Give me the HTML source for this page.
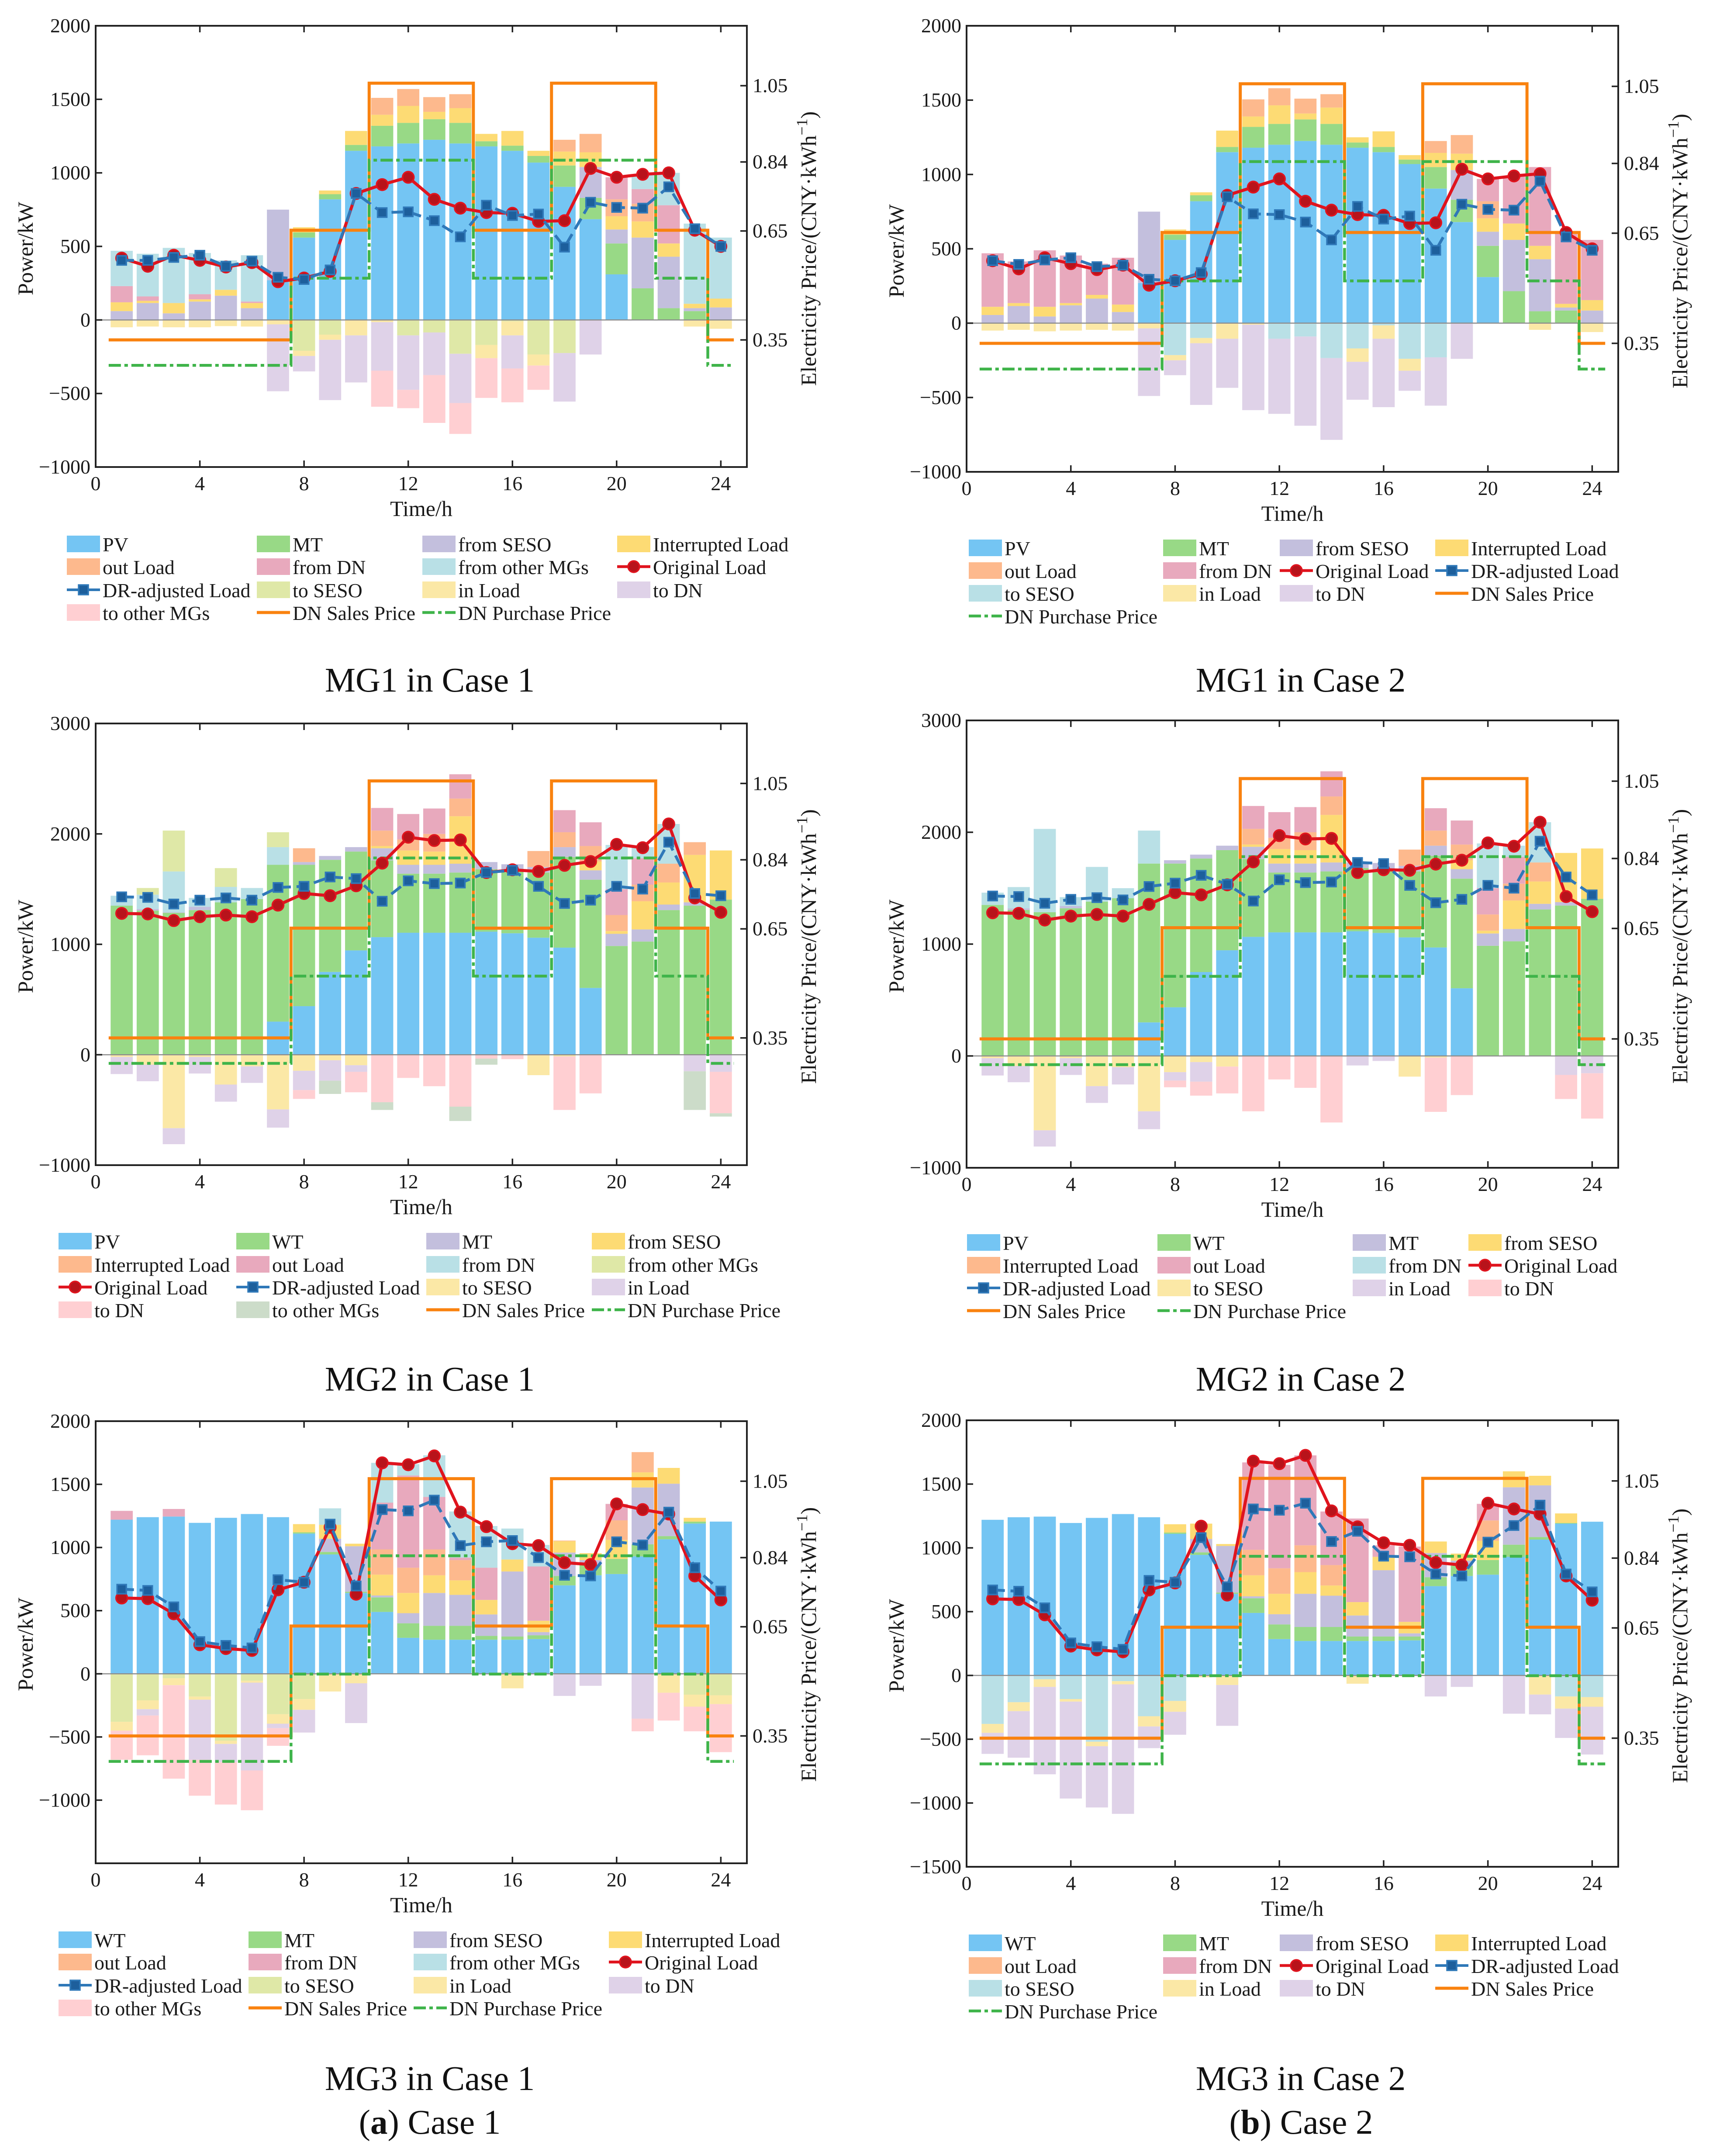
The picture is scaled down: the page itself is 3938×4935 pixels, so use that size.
<!DOCTYPE html>
<html lang="en">
<head>
<meta charset="utf-8">
<title>Microgrid power balance, Case 1 and Case 2</title>
<style>
html,body{margin:0;padding:0;background:#fff;}
svg{display:block;font-family:"Liberation Serif","Times New Roman",serif;}
</style>
</head>
<body>
<svg id="figure" xmlns="http://www.w3.org/2000/svg" width="3938" height="4935" viewBox="0 0 3938 4935">
<rect x="0" y="0" width="3938" height="4935" fill="#ffffff"/>
</svg>
<script>
// Shared axis data
const hourTicks = [0, 4, 8, 12, 16, 20, 24];
const priceTicks = [0.35, 0.65, 0.84, 1.05];
const salesPrice = [0.35,0.35,0.35,0.35,0.35,0.35,0.35,0.652,0.652,0.652,1.057,1.057,1.057,1.057,0.652,0.652,0.652,1.057,1.057,1.057,1.057,0.652,0.652,0.35];
const purchasePrice = [0.28,0.28,0.28,0.28,0.28,0.28,0.28,0.52,0.52,0.52,0.845,0.845,0.845,0.845,0.52,0.52,0.52,0.845,0.845,0.845,0.845,0.52,0.52,0.28];
const powerTicks1 = [-1000, -500, 0, 500, 1000, 1500, 2000];
const powerTicks2 = [-1000, 0, 1000, 2000, 3000];
const powerTicks3a = [-1000, -500, 0, 500, 1000, 1500, 2000];
const powerTicks3b = [-1500, -1000, -500, 0, 500, 1000, 1500, 2000];

// MG1 in Case 1
const mg1c1PV = [0,0,0,0,0,0,270,560,820,1150,1180,1200,1225,1200,1180,1150,1070,905,685,310,0,0,0,0];
const mg1c1MT = [0,0,0,0,0,0,0,35,35,40,140,140,140,140,35,35,45,145,145,210,215,80,60,0];
const mg1c1FromSESO = [60,115,45,125,165,80,480,0,0,0,0,0,0,0,0,0,0,0,210,95,345,350,20,85];
const mg1c1Interrupted = [60,15,70,15,40,35,0,35,25,95,75,115,50,100,50,100,35,95,100,90,110,90,30,60];
const mg1c1OutLoad = [0,0,0,0,0,0,0,0,0,0,115,115,100,95,0,0,0,80,125,115,120,0,0,0];
const mg1c1FromDN = [110,30,0,35,0,10,0,0,0,0,0,0,0,0,0,0,0,0,0,150,100,260,0,0];
const mg1c1FromOther = [240,290,375,280,200,315,0,0,0,0,0,0,0,0,0,0,0,0,0,0,100,220,545,415];
const mg1c1ToSESO = [0,0,0,0,0,0,0,210,100,0,0,105,85,230,170,10,235,225,0,0,0,0,0,0];
const mg1c1InLoad = [50,45,50,50,42,45,30,35,35,105,15,0,0,0,90,95,75,0,0,0,0,0,45,60];
const mg1c1ToDN = [0,0,0,0,0,0,455,105,410,320,330,370,290,335,0,225,0,330,235,0,0,0,0,0];
const mg1c1ToOther = [0,0,0,0,0,0,0,0,0,0,245,125,325,210,270,230,165,0,0,0,0,0,0,0];
const mg1c1Original = [420,365,440,405,360,390,260,285,330,860,920,970,820,760,730,725,670,675,1030,970,990,1000,610,500];
const mg1c1Adjusted = [405,405,425,440,365,400,290,275,340,860,730,735,675,565,780,710,720,495,800,765,760,905,620,500];

// MG1 in Case 2
const mg1c2PV = [0,0,0,0,0,0,270,560,820,1150,1180,1200,1225,1200,1180,1150,1070,905,680,310,0,0,0,0];
const mg1c2MT = [0,0,0,0,0,0,0,35,40,35,140,140,145,140,35,35,30,145,150,210,215,80,85,0];
const mg1c2FromSESO = [55,115,45,120,165,75,480,0,0,0,0,0,0,0,0,0,0,0,200,95,345,350,20,85];
const mg1c2Interrupted = [55,20,65,15,25,50,0,35,20,110,70,125,40,110,35,105,30,95,110,90,110,90,25,70];
const mg1c2OutLoad = [0,0,0,0,0,0,0,0,0,0,115,115,100,90,0,0,0,80,125,115,0,0,0,0];
const mg1c2FromDN = [360,280,380,320,210,315,0,0,0,0,0,0,0,0,0,0,0,0,0,150,320,530,490,405];
const mg1c2ToSESO = [0,0,0,0,0,0,0,215,100,0,0,105,90,235,170,15,240,230,0,0,0,0,0,0];
const mg1c2InLoad = [50,45,55,50,45,50,35,35,35,105,10,0,0,0,90,90,80,0,0,0,0,45,0,60];
const mg1c2ToDN = [0,0,0,0,0,0,455,100,415,330,575,505,600,550,255,460,135,325,240,0,0,0,0,0];
const mg1c2Original = [420,365,440,400,360,390,255,285,330,860,915,970,820,760,730,725,670,675,1035,970,990,1005,610,500];
const mg1c2Adjusted = [420,395,425,440,380,390,295,285,340,850,735,730,680,560,785,700,720,490,800,765,760,955,580,490];

// MG2 in Case 1
const mg2c1PV = [0,0,0,0,0,0,300,440,750,945,1065,1105,1105,1105,1115,1100,1060,970,605,0,0,0,0,0];
const mg2c1WT = [1350,1305,1285,1310,1380,1410,1420,1280,1015,895,695,535,535,545,565,570,590,820,980,985,1025,1310,1350,1405];
const mg2c1MT = [0,15,5,30,0,0,0,25,35,40,110,80,80,80,65,55,50,90,85,110,110,50,30,0];
const mg2c1FromSESO = [0,0,0,0,0,0,0,0,0,0,20,130,120,430,0,0,0,0,80,25,255,200,430,445];
const mg2c1Interrupted = [0,0,0,0,0,0,0,125,0,0,140,100,160,160,0,0,145,135,140,145,150,170,115,0];
const mg2c1OutLoad = [0,0,0,0,0,0,0,0,0,0,205,230,230,220,0,0,0,200,215,235,240,0,0,0];
const mg2c1FromDN = [90,130,370,80,140,100,160,0,0,0,0,0,0,0,0,0,0,0,0,400,100,360,0,0];
const mg2c1FromOther = [0,60,370,0,170,0,135,0,0,0,0,0,0,0,0,0,0,0,0,0,0,0,0,0];
const mg2c1ToSESO = [20,90,665,20,270,105,495,145,50,95,0,0,0,0,0,0,185,15,0,0,0,0,0,0];
const mg2c1InLoad = [155,150,145,150,155,150,165,175,185,60,0,0,0,0,0,0,0,0,0,0,0,0,150,155];
const mg2c1ToDN = [0,0,0,0,0,0,0,80,0,185,430,210,285,470,35,40,0,485,350,0,0,0,0,375];
const mg2c1ToOther = [0,0,0,0,0,0,0,0,120,0,70,0,0,130,55,0,0,0,0,0,0,0,350,30];
const mg2c1Original = [1280,1275,1215,1250,1265,1250,1355,1460,1440,1530,1735,1970,1940,1945,1650,1675,1660,1715,1750,1905,1875,2090,1420,1290];
const mg2c1Adjusted = [1430,1425,1365,1400,1420,1400,1515,1525,1610,1595,1390,1575,1550,1555,1650,1670,1525,1370,1400,1525,1500,1925,1460,1440];

// MG2 in Case 2
const mg2c2PV = [0,0,0,0,0,0,300,435,750,945,1065,1105,1105,1105,1115,1100,1060,970,605,0,0,0,0,0];
const mg2c2WT = [1350,1305,1285,1320,1380,1410,1420,1285,1015,895,695,535,535,545,565,570,590,820,980,985,1025,1310,1345,1405];
const mg2c2MT = [0,15,0,20,0,0,0,30,35,40,110,80,80,80,50,55,50,90,85,110,110,50,30,0];
const mg2c2FromSESO = [0,0,0,0,0,0,0,0,0,0,20,130,120,425,0,0,0,0,80,25,255,200,440,450];
const mg2c2Interrupted = [0,0,0,0,0,0,0,0,0,0,140,100,160,165,0,0,145,135,140,145,150,170,0,0];
const mg2c2OutLoad = [0,0,0,0,0,0,0,0,0,0,205,230,225,225,0,0,0,200,215,235,240,0,0,0];
const mg2c2FromDN = [110,190,745,80,310,90,295,0,0,0,0,0,0,0,0,0,0,0,0,400,100,360,0,0];
const mg2c2ToSESO = [20,90,665,20,270,100,495,145,55,95,0,0,0,0,0,0,185,15,0,0,0,0,0,0];
const mg2c2InLoad = [155,145,145,150,150,155,160,75,175,0,0,0,0,0,85,45,0,0,0,0,0,0,170,155];
const mg2c2ToDN = [0,0,0,0,0,0,0,60,125,240,495,210,285,595,0,0,0,485,350,0,0,0,215,405];
const mg2c2Original = [1280,1275,1215,1250,1265,1250,1355,1460,1440,1530,1735,1970,1940,1945,1640,1665,1660,1715,1750,1905,1875,2090,1425,1290];
const mg2c2Adjusted = [1430,1425,1365,1400,1415,1395,1515,1545,1615,1535,1385,1575,1550,1555,1730,1720,1525,1370,1400,1525,1500,1920,1600,1440];

// MG3 in Case 1
const mg3c1WT = [1220,1240,1245,1195,1235,1265,1240,1110,945,640,490,285,270,270,270,270,275,700,780,790,930,1065,1190,1205];
const mg3c1MT = [0,0,0,0,0,0,0,10,20,10,115,115,110,110,30,25,30,75,80,120,95,25,15,0];
const mg3c1FromSESO = [0,0,0,0,0,0,0,0,105,360,15,80,260,245,170,515,25,185,40,0,450,415,0,0];
const mg3c1Interrupted = [0,0,0,0,0,0,0,65,110,20,165,160,140,115,115,95,90,90,55,150,120,125,30,0];
const mg3c1OutLoad = [0,0,0,0,0,0,0,0,0,0,200,200,205,160,0,0,0,5,0,155,160,0,0,0];
const mg3c1FromDN = [70,0,60,0,0,0,0,0,0,0,370,730,415,20,255,0,430,0,0,130,0,0,0,0];
const mg3c1FromOther = [0,0,0,0,0,0,0,0,130,0,315,90,330,365,330,245,170,0,0,0,0,0,0,0];
const mg3c1ToSESO = [380,210,35,180,530,55,320,200,0,0,0,0,0,0,0,0,0,0,0,0,0,0,165,170];
const mg3c1InLoad = [70,70,55,25,25,15,75,85,140,75,0,0,0,0,0,115,0,0,0,0,0,150,95,70];
const mg3c1ToDN = [0,50,0,475,145,695,35,180,0,315,0,0,0,0,0,0,0,175,95,0,355,0,0,0];
const mg3c1ToOther = [230,315,740,285,335,315,140,0,0,0,0,0,0,0,0,0,0,0,0,0,100,220,195,380];
const mg3c1Original = [600,595,475,230,200,185,665,725,1160,630,1670,1655,1725,1280,1165,1030,1015,880,865,1345,1300,1265,775,585];
const mg3c1Adjusted = [670,660,530,255,225,205,745,725,1185,695,1300,1290,1375,1015,1045,1055,920,780,775,1045,1020,1280,840,655];

// MG3 in Case 2
const mg3c2WT = [1220,1240,1245,1195,1235,1265,1240,1110,945,640,490,285,270,270,270,270,275,700,780,790,930,1065,1190,1205];
const mg3c2MT = [0,0,0,0,0,0,0,10,20,10,115,115,110,110,35,35,30,70,80,115,95,20,5,0];
const mg3c2FromSESO = [0,0,0,0,0,0,0,0,105,365,15,80,260,245,165,520,25,190,40,0,450,405,0,0];
const mg3c2Interrupted = [0,0,0,0,0,0,0,65,120,15,165,160,170,80,105,105,90,90,55,150,125,75,75,0];
const mg3c2OutLoad = [0,0,0,0,0,0,0,0,0,0,200,200,210,160,0,0,0,0,0,160,0,0,0,0];
const mg3c2FromDN = [0,0,0,0,0,0,0,0,0,0,685,810,705,420,655,90,590,0,0,130,0,0,0,0];
const mg3c2ToSESO = [380,210,30,185,520,45,320,200,0,0,0,0,0,0,0,0,0,0,0,0,0,0,165,170];
const mg3c2InLoad = [70,70,60,20,35,25,80,85,15,75,0,0,0,0,65,0,0,0,0,0,0,150,95,75];
const mg3c2ToDN = [165,365,685,760,480,1015,170,180,0,320,0,0,0,0,0,0,0,165,90,0,300,155,230,375];
const mg3c2Original = [600,595,475,230,200,185,670,725,1170,630,1680,1660,1725,1290,1165,1040,1020,885,865,1350,1305,1265,780,590];
const mg3c2Adjusted = [670,660,530,255,225,205,745,730,1080,695,1305,1295,1350,1050,1130,935,930,795,780,1045,1175,1335,795,655];

// Palette and layout
const C = {blue:'#74c5f3', green:'#98d986', lav:'#c3bfdd', yellow:'#fddb74', orange:'#fdb98d', pink:'#e8a9bd', sky:'#b9e0e6', lime:'#dfe8a7', pale:'#fbe8a6', purple:'#dfd2e8', rose:'#ffcfd2', sage:'#ccdcc9'};
const RED = '#e0141e', RED_FILL = '#b8131b', BLUE_LINE = '#2f78b8', BLUE_FILL = '#1d5f9c', SALES = '#f9820f', PURCHASE = '#3fb44a';
const AXIS_MAX_PRICE = 1.215;

const panels = [
 {id:'mg1-case1', title:'MG1 in Case 1', left:219, right:1710, top:59, bottom:1069, yMin:-1000, yMax:2000, yTicks:powerTicks1, titleY:1583, cx:984,
  pos:[['PV',mg1c1PV,C.blue],['MT',mg1c1MT,C.green],['from SESO',mg1c1FromSESO,C.lav],['Interrupted Load',mg1c1Interrupted,C.yellow],['out Load',mg1c1OutLoad,C.orange],['from DN',mg1c1FromDN,C.pink],['from other MGs',mg1c1FromOther,C.sky]],
  neg:[['to SESO',mg1c1ToSESO,C.lime],['in Load',mg1c1InLoad,C.pale],['to DN',mg1c1ToDN,C.purple],['to other MGs',mg1c1ToOther,C.rose]],
  original:mg1c1Original, adjusted:mg1c1Adjusted,
  legendX:[153,588,967,1413], legendY:[1247,1299,1352,1404],
  legend:['PV','MT','from SESO','Interrupted Load','out Load','from DN','from other MGs','Original Load','DR-adjusted Load','to SESO','in Load','to DN','to other MGs','DN Sales Price','DN Purchase Price']},
 {id:'mg1-case2', title:'MG1 in Case 2', left:2213, right:3705, top:59, bottom:1080, yMin:-1000, yMax:2000, yTicks:powerTicks1, titleY:1583, cx:2978,
  pos:[['PV',mg1c2PV,C.blue],['MT',mg1c2MT,C.green],['from SESO',mg1c2FromSESO,C.lav],['Interrupted Load',mg1c2Interrupted,C.yellow],['out Load',mg1c2OutLoad,C.orange],['from DN',mg1c2FromDN,C.pink]],
  neg:[['to SESO',mg1c2ToSESO,C.sky],['in Load',mg1c2InLoad,C.pale],['to DN',mg1c2ToDN,C.purple]],
  original:mg1c2Original, adjusted:mg1c2Adjusted,
  legendX:[2218,2663,2930,3286], legendY:[1256,1308,1360,1412],
  legend:['PV','MT','from SESO','Interrupted Load','out Load','from DN','Original Load','DR-adjusted Load','to SESO','in Load','to DN','DN Sales Price','DN Purchase Price']},
 {id:'mg2-case1', title:'MG2 in Case 1', left:219, right:1710, top:1656, bottom:2667, yMin:-1000, yMax:3000, yTicks:powerTicks2, titleY:3183, cx:984,
  pos:[['PV',mg2c1PV,C.blue],['WT',mg2c1WT,C.green],['MT',mg2c1MT,C.lav],['from SESO',mg2c1FromSESO,C.yellow],['Interrupted Load',mg2c1Interrupted,C.orange],['out Load',mg2c1OutLoad,C.pink],['from DN',mg2c1FromDN,C.sky],['from other MGs',mg2c1FromOther,C.lime]],
  neg:[['to SESO',mg2c1ToSESO,C.pale],['in Load',mg2c1InLoad,C.purple],['to DN',mg2c1ToDN,C.rose],['to other MGs',mg2c1ToOther,C.sage]],
  original:mg2c1Original, adjusted:mg2c1Adjusted,
  legendX:[134,541,976,1355], legendY:[2843,2896,2948,3000],
  legend:['PV','WT','MT','from SESO','Interrupted Load','out Load','from DN','from other MGs','Original Load','DR-adjusted Load','to SESO','in Load','to DN','to other MGs','DN Sales Price','DN Purchase Price']},
 {id:'mg2-case2', title:'MG2 in Case 2', left:2213, right:3705, top:1649, bottom:2673, yMin:-1000, yMax:3000, yTicks:powerTicks2, titleY:3183, cx:2978,
  pos:[['PV',mg2c2PV,C.blue],['WT',mg2c2WT,C.green],['MT',mg2c2MT,C.lav],['from SESO',mg2c2FromSESO,C.yellow],['Interrupted Load',mg2c2Interrupted,C.orange],['out Load',mg2c2OutLoad,C.pink],['from DN',mg2c2FromDN,C.sky]],
  neg:[['to SESO',mg2c2ToSESO,C.pale],['in Load',mg2c2InLoad,C.purple],['to DN',mg2c2ToDN,C.rose]],
  original:mg2c2Original, adjusted:mg2c2Adjusted,
  legendX:[2214,2650,3097,3362], legendY:[2846,2898,2950,3002],
  legend:['PV','WT','MT','from SESO','Interrupted Load','out Load','from DN','Original Load','DR-adjusted Load','to SESO','in Load','to DN','DN Sales Price','DN Purchase Price']},
 {id:'mg3-case1', title:'MG3 in Case 1', left:219, right:1710, top:3253, bottom:4265, yMin:-1500, yMax:2000, yTicks:powerTicks3a, titleY:4784, cx:984,
  pos:[['WT',mg3c1WT,C.blue],['MT',mg3c1MT,C.green],['from SESO',mg3c1FromSESO,C.lav],['Interrupted Load',mg3c1Interrupted,C.yellow],['out Load',mg3c1OutLoad,C.orange],['from DN',mg3c1FromDN,C.pink],['from other MGs',mg3c1FromOther,C.sky]],
  neg:[['to SESO',mg3c1ToSESO,C.lime],['in Load',mg3c1InLoad,C.pale],['to DN',mg3c1ToDN,C.purple],['to other MGs',mg3c1ToOther,C.rose]],
  original:mg3c1Original, adjusted:mg3c1Adjusted,
  legendX:[134,569,947,1394], legendY:[4442,4493,4546,4598],
  legend:['WT','MT','from SESO','Interrupted Load','out Load','from DN','from other MGs','Original Load','DR-adjusted Load','to SESO','in Load','to DN','to other MGs','DN Sales Price','DN Purchase Price']},
 {id:'mg3-case2', title:'MG3 in Case 2', left:2213, right:3705, top:3251, bottom:4273, yMin:-1500, yMax:2000, yTicks:powerTicks3b, titleY:4784, cx:2978,
  pos:[['WT',mg3c2WT,C.blue],['MT',mg3c2MT,C.green],['from SESO',mg3c2FromSESO,C.lav],['Interrupted Load',mg3c2Interrupted,C.yellow],['out Load',mg3c2OutLoad,C.orange],['from DN',mg3c2FromDN,C.pink]],
  neg:[['to SESO',mg3c2ToSESO,C.sky],['in Load',mg3c2InLoad,C.pale],['to DN',mg3c2ToDN,C.purple]],
  original:mg3c2Original, adjusted:mg3c2Adjusted,
  legendX:[2218,2663,2930,3286], legendY:[4449,4501,4553,4605],
  legend:['WT','MT','from SESO','Interrupted Load','out Load','from DN','Original Load','DR-adjusted Load','to SESO','in Load','to DN','DN Sales Price','DN Purchase Price']}
];

const NS = 'http://www.w3.org/2000/svg';
const root = document.getElementById('figure');

function mk(parent, tag, attrs, text) {
  const node = document.createElementNS(NS, tag);
  for (const k in attrs) node.setAttribute(k, attrs[k]);
  if (text !== undefined) node.textContent = text;
  parent.appendChild(node);
  return node;
}
function slug(s) { return s.toLowerCase().replace(/[^a-z0-9]+/g, '-'); }
function fmt(v) { return v < 0 ? '\u2212' + Math.abs(v) : String(v); }

function drawLegendLine(g, kind, x, y) {
  const mid = x + 38;
  if (kind === 'Original Load') {
    const l = mk(g, 'line', {x1:x, y1:y, x2:x+76, y2:y, stroke:RED, 'stroke-width':6.5});
    
    
    const m = mk(g, 'circle', {cx:mid, cy:y, r:13, fill:RED_FILL, stroke:RED, 'stroke-width':3.5});
    
    
  } else if (kind === 'DR-adjusted Load') {
    const l = mk(g, 'line', {x1:x, y1:y, x2:x+76, y2:y, stroke:BLUE_LINE, 'stroke-width':6});
    
    
    const m = mk(g, 'rect', {x:mid-11, y:y-11, width:22, height:22, fill:BLUE_FILL, stroke:BLUE_LINE, 'stroke-width':3.5});
    
    
  } else if (kind === 'DN Sales Price') {
    const l = mk(g, 'line', {x1:x, y1:y, x2:x+76, y2:y, stroke:SALES, 'stroke-width':7});
    
    
  } else {
    const l = mk(g, 'line', {x1:x, y1:y, x2:x+76, y2:y, stroke:PURCHASE, 'stroke-width':6.5, 'stroke-dasharray':'28 8 8 8'});
    
    
  }
}

function drawPanel(p) {
  const sx = h => p.left + (h / 25) * (p.right - p.left);
  const sy = v => p.bottom - ((v - p.yMin) / (p.yMax - p.yMin)) * (p.bottom - p.top);
  const sp = v => p.bottom - (v / AXIS_MAX_PRICE) * (p.bottom - p.top);
  const barW = 0.85 * (p.right - p.left) / 25;

  const g = mk(root, 'g', {});
  
  

  // stacked bars
  [p.pos, p.neg].forEach((stack, idx) => {
    const sign = idx === 0 ? 1 : -1;
    stack.forEach(series => {
      const sg = mk(g, 'g', {fill: series[2]});
      
      
      series[1].forEach((val, i) => {
        if (!val) return;
        let base = 0;
        stack.forEach(other => {
          if (stack.indexOf(other) < stack.indexOf(series)) base += other[1][i];
        });
        const y0 = sy(sign * base), y1 = sy(sign * (base + val));
        const r = mk(sg, 'rect', {x: sx(i + 1) - barW / 2, y: Math.min(y0, y1), width: barW, height: Math.abs(y1 - y0)});
        
        
      });
    });
  });

  // zero line
  const zero = mk(g, 'line', {x1:p.left, x2:p.right, y1:sy(0), y2:sy(0), stroke:'#8c8c8c', 'stroke-width':2.5});
  
  

  // price step lines
  function stepPath(arr) {
    let d = '';
    arr.forEach((v, i) => {
      d += (i === 0 ? 'M' : 'L') + sx(i + 0.5) + ' ' + sp(v) + 'L' + sx(i + 1.5) + ' ' + sp(v);
    });
    return d;
  }
  const sales = mk(g, 'path', {d: stepPath(salesPrice), fill:'none', stroke:SALES, 'stroke-width':7});
  
  
  const purchase = mk(g, 'path', {d: stepPath(purchasePrice), fill:'none', stroke:PURCHASE, 'stroke-width':6.5, 'stroke-dasharray':'28 8 8 8'});
  
  

  // load lines
  const linePts = arr => arr.map((v, i) => sx(i + 1) + ',' + sy(v)).join(' ');
  const origLine = mk(g, 'polyline', {points: linePts(p.original), fill:'none', stroke:RED, 'stroke-width':7});
  
  
  p.original.forEach((v, i) => {
    const c = mk(g, 'circle', {cx: sx(i + 1), cy: sy(v), r: 13, fill: RED_FILL, stroke: RED, 'stroke-width': 3.5});
    
    
  });
  const adjLine = mk(g, 'polyline', {points: linePts(p.adjusted), fill:'none', stroke:BLUE_LINE, 'stroke-width':6.5, 'stroke-dasharray':'28 13'});
  
  
  p.adjusted.forEach((v, i) => {
    const s = mk(g, 'rect', {x: sx(i + 1) - 10.5, y: sy(v) - 10.5, width: 21, height: 21, fill: BLUE_FILL, stroke: BLUE_LINE, 'stroke-width': 3.5});
    
    
  });

  // axes box
  const box = mk(g, 'rect', {x:p.left, y:p.top, width:p.right-p.left, height:p.bottom-p.top, fill:'none', stroke:'#222222', 'stroke-width':4});
  
  

  // x ticks
  hourTicks.forEach(h => {
    const x = sx(h);
    if (h > 0) {
      const t1 = mk(g, 'line', {x1:x, x2:x, y1:p.bottom, y2:p.bottom-15, stroke:'#222', 'stroke-width':3.5});
      
      
      const t2 = mk(g, 'line', {x1:x, x2:x, y1:p.top, y2:p.top+15, stroke:'#222', 'stroke-width':3.5});
      
      
    }
    const lab = mk(g, 'text', {x:x, y:p.bottom+53, 'font-size':46, 'text-anchor':'middle', fill:'#1a1a1a'}, String(h));
    
    
  });

  // left ticks
  p.yTicks.forEach(v => {
    const y = sy(v);
    if (v > p.yMin && v < p.yMax) {
      const t = mk(g, 'line', {x1:p.left, x2:p.left+15, y1:y, y2:y, stroke:'#222', 'stroke-width':3.5});
      
      
    }
    const lab = mk(g, 'text', {x:p.left-12, y:y+15, 'font-size':46, 'text-anchor':'end', fill:'#1a1a1a'}, fmt(v));
    
    
  });

  // right ticks
  priceTicks.forEach(v => {
    const y = sp(v);
    const t = mk(g, 'line', {x1:p.right-15, x2:p.right, y1:y, y2:y, stroke:'#222', 'stroke-width':3.5});
    
    
    const lab = mk(g, 'text', {x:p.right+13, y:y+15, 'font-size':46, fill:'#1a1a1a'}, v.toFixed(2));
    
    
  });

  // axis titles
  const xt = mk(g, 'text', {x:(p.left+p.right)/2, y:p.bottom+112, 'font-size':50, 'text-anchor':'middle', fill:'#1a1a1a'}, 'Time/h');
  
  

  const cy = (p.top + p.bottom) / 2 + 5;
  const lx = p.left - 144;
  const yt = mk(g, 'text', {transform:'translate(' + lx + ' ' + cy + ') rotate(-90)', 'font-size':50, 'text-anchor':'middle', fill:'#1a1a1a'}, 'Power/kW');
  
  

  const rx = p.right + 158;
  const rt = mk(g, 'text', {transform:'translate(' + rx + ' ' + cy + ') rotate(-90)', 'font-size':50, 'text-anchor':'middle', fill:'#1a1a1a'}, 'Electricity Price/(CNY\u00b7kWh');
  
  
  mk(rt, 'tspan', {dy:-20, 'font-size':36}, '\u22121');
  mk(rt, 'tspan', {dy:20}, ')');

  // legend
  const lg = mk(g, 'g', {});
  
  
  const all = p.pos.concat(p.neg);
  p.legend.forEach((name, i) => {
    const col = i % 4, row = Math.floor(i / 4);
    const x = p.legendX[col], y = p.legendY[row];
    const entry = mk(lg, 'g', {});
    
    
    const found = all.find(s => s[0] === name);
    if (found) {
      const sw = mk(entry, 'rect', {x:x, y:y-21, width:76, height:38, fill:found[2]});
      
      
    } else {
      drawLegendLine(entry, name, x, y-2);
    }
    const tx = mk(entry, 'text', {x:x+82, y:y+15, 'font-size':46, fill:'#1a1a1a'}, name);
    
    
  });

  // panel title
  const ti = mk(g, 'text', {x:p.cx, y:p.titleY, 'font-size':79, 'text-anchor':'middle', fill:'#111'}, p.title);
  
  
}

panels.forEach(drawPanel);

// sub-figure captions
const capA = mk(root, 'text', {x:984, y:4884, 'font-size':79, 'text-anchor':'middle', fill:'#111'}, '(');


mk(capA, 'tspan', {'font-weight':'bold'}, 'a');
mk(capA, 'tspan', {}, ') Case 1');
const capB = mk(root, 'text', {x:2979, y:4884, 'font-size':79, 'text-anchor':'middle', fill:'#111'}, '(');


mk(capB, 'tspan', {'font-weight':'bold'}, 'b');
mk(capB, 'tspan', {}, ') Case 2');
</script>
</body>
</html>
